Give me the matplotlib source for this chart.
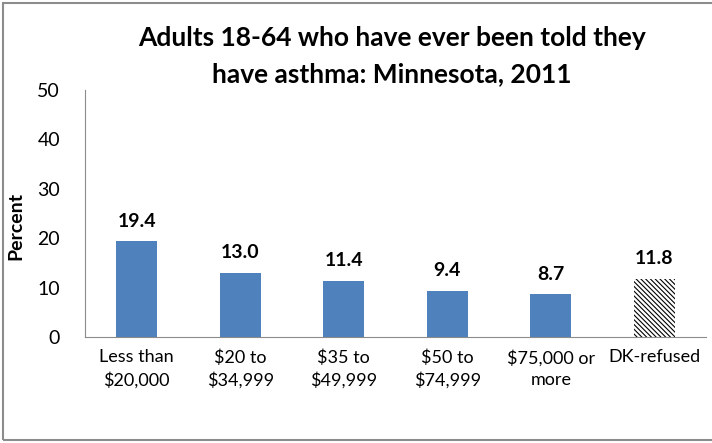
import matplotlib
matplotlib.use("Agg")
import matplotlib.pyplot as plt
from matplotlib.patches import Rectangle

categories = ["Less than\n$20,000", "$20 to\n$34,999", "$35 to\n$49,999",
              "$50 to\n$74,999", "$75,000 or\nmore", "DK-refused"]
values = [19.4, 13.0, 11.4, 9.4, 8.7, 11.8]
labels = ["19.4", "13.0", "11.4", "9.4", "8.7", "11.8"]
yticks = [0, 10, 20, 30, 40, 50]

plt.rcParams['font.family'] = ['Lato', 'DejaVu Sans']
plt.rcParams['hatch.linewidth'] = 0.8

fig = plt.figure(figsize=(7.12, 4.43), dpi=100)
ax = fig.add_axes([85/712, 1 - 337/443, 621/712, 247/443])

x = list(range(len(categories)))
colors = ["#4F81BD"] * 5 + ["white"]
bars = ax.bar(x, values, width=0.4, color=colors)
bars[-1].set_hatch("\\\\\\\\\\\\\\")
bars[-1].set_edgecolor("black")
bars[-1].set_linewidth(0)

for xi, v, lab in zip(x, values, labels):
    ax.text(xi, v + 2.3, lab, ha="center", va="bottom", fontsize=14, fontweight="bold")

ax.set_xlim(-0.5, len(categories) - 0.5)
ax.set_ylim(0, 50)
ax.set_yticks(yticks)
ax.set_xticks(x)
ax.set_xticklabels(categories, fontsize=13, linespacing=1.45)
ax.tick_params(axis="y", labelsize=14, length=0, pad=18)
ax.tick_params(axis="x", length=0, pad=9)
for s in ["top", "right"]:
    ax.spines[s].set_visible(False)
for s in ["left", "bottom"]:
    ax.spines[s].set_color("#8c8c8c")
ax.set_ylabel("Percent", fontsize=14, fontweight="bold")
ax.yaxis.set_label_coords(-0.098, 0.45)

fig.text(392/712, 1 - 56/443, "Adults 18-64 who have ever been told they\nhave asthma: Minnesota, 2011",
         ha="center", va="center", fontsize=19, fontweight="bold", linespacing=1.6)

fig.patches.append(Rectangle((3/712, 3/443), 1.2, 1 - 6/443, transform=fig.transFigure,
                             fill=False, edgecolor="#8c8c8c", linewidth=1.5))

fig.savefig("out.png", dpi=100)
